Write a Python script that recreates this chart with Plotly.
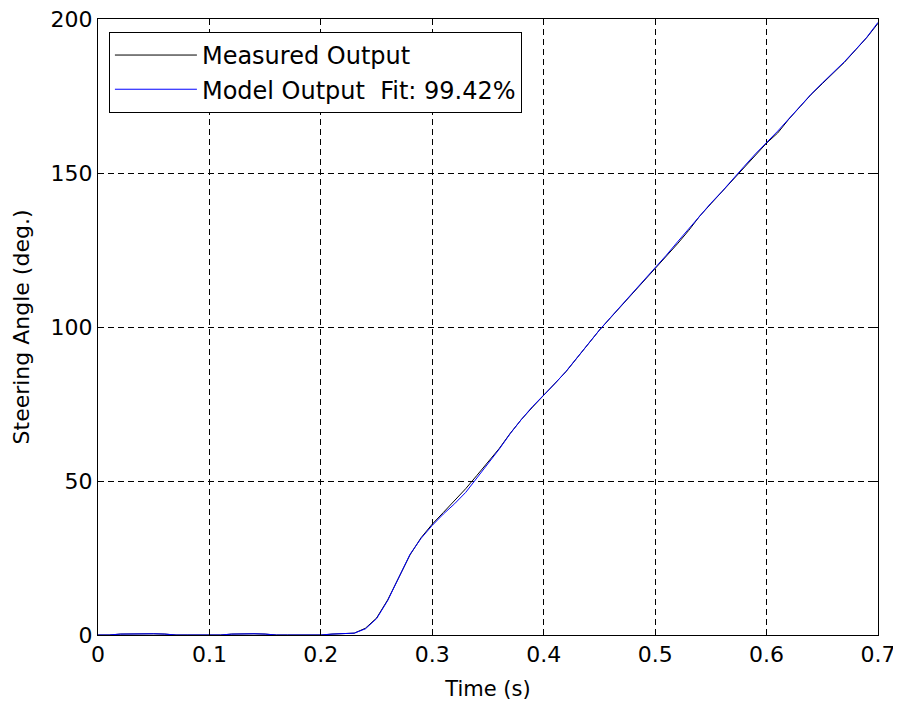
import plotly.graph_objects as go

time_s = [round(i * 0.01, 2) for i in range(71)]

measured = [
    0, 0, 0.3, 0.4, 0.4, 0.4, 0.3, 0, 0, 0,
    0, 0, 0.3, 0.4, 0.4, 0.3, 0, 0, 0, 0,
    0, 0.3, 0.4, 0.6, 2.2, 5.5, 11.4, 18.5, 26.0, 31.6,
    36.0, 39.8, 43.5, 47.5, 51.8, 56.0, 60.5, 65.5, 70.0, 74.0,
    77.8, 81.5, 85.5, 90.0, 94.5, 99.0, 103.0, 107.0, 111.0, 115.0,
    119.0, 122.8, 127.0, 131.3, 136.0, 140.0, 144.0, 148.0, 152.0, 156.0,
    159.7, 163.0, 167.5, 171.5, 175.5, 179.0, 182.5, 186.0, 190.0, 194.0,
    198.6,
]

model = [
    0, 0, 0.3, 0.4, 0.4, 0.4, 0.3, 0, 0, 0,
    0, 0, 0.3, 0.4, 0.4, 0.3, 0, 0, 0, 0,
    0, 0.3, 0.4, 0.6, 2.0, 5.3, 11.2, 18.8, 26.2, 31.4,
    35.6, 39.3, 42.6, 46.3, 51.0, 55.6, 60.3, 65.4, 70.0, 74.2,
    77.8, 81.6, 85.6, 90.1, 94.6, 99.0, 103.1, 107.1, 111.0, 115.0,
    119.0, 123.3, 127.6, 131.8, 136.2, 140.2, 144.0, 148.2, 152.2, 156.2,
    159.8, 163.6, 167.6, 171.7, 175.6, 179.2, 182.7, 186.2, 190.1, 194.1,
    198.9,
]

x_ticks = [0, 0.1, 0.2, 0.3, 0.4, 0.5, 0.6, 0.7]
x_tick_labels = ["0", "0.1", "0.2", "0.3", "0.4", "0.5", "0.6", "0.7"]
y_ticks = [0, 50, 100, 150, 200]
y_tick_labels = ["0", "50", "100", "150", "200"]

FONT = "DejaVu Sans"

fig = go.Figure()
fig.add_trace(go.Scatter(
    x=time_s, y=measured, mode="lines", name="Measured Output",
    line=dict(color="black", width=1),
))
fig.add_trace(go.Scatter(
    x=time_s, y=model, mode="lines", name="Model Output&nbsp;&nbsp;Fit: 99.42%",
    line=dict(color="#0000ff", width=1),
))

axis_common = dict(
    showline=True, linecolor="black", linewidth=1, mirror="ticks",
    ticks="inside", ticklen=6, tickcolor="black", tickwidth=1,
    showgrid=True, gridcolor="black", gridwidth=1, griddash="6px,4px",
    zeroline=False, automargin=False, ticklabeloverflow="allow",
    tickfont=dict(family=FONT, size=22, color="black"),
)

fig.update_xaxes(
    range=[0, 0.7], tickvals=x_ticks, ticktext=x_tick_labels,
    title=dict(text="Time (s)", font=dict(family=FONT, size=21, color="black"), standoff=14),
    **axis_common,
)
fig.update_yaxes(
    range=[0, 200], tickvals=y_ticks, ticktext=y_tick_labels,
    title=dict(text="Steering Angle (deg.)", font=dict(family=FONT, size=22, color="black"), standoff=14),
    **axis_common,
)

# page body adds an 8px offset; margins are reduced so the plot lands where the reference has it
fig.update_layout(
    width=893, height=702,
    margin=dict(l=90, r=23, t=11, b=75, pad=0, autoexpand=False),
    paper_bgcolor="white", plot_bgcolor="white",
    showlegend=True,
    legend=dict(
        x=0.014, y=0.979, xanchor="left", yanchor="top",
        bgcolor="white", bordercolor="black", borderwidth=1,
        font=dict(family=FONT, size=24, color="black"),
        itemwidth=82, tracegroupgap=0,
    ),
    font=dict(family=FONT, color="black"),
)

fig.write_html("out.html")
